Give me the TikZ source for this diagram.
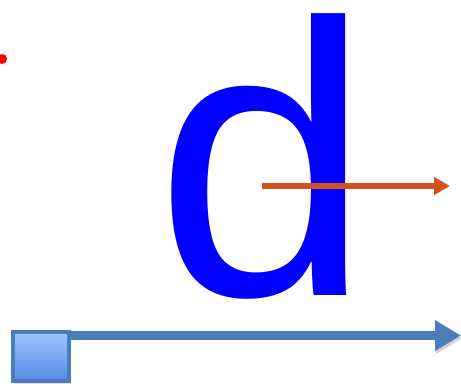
\documentclass[tikz,border=0pt]{standalone}
\usepackage{fontspec}
\setsansfont{Liberation Sans}
\usetikzlibrary{arrows.meta, positioning, shadows}

\definecolor{glyphblue}{RGB}{0,0,255}
\definecolor{rayorange}{RGB}{214,80,28}
\definecolor{axisblue}{RGB}{74,126,187}
\definecolor{boxtop}{RGB}{158,196,255}
\definecolor{boxbottom}{RGB}{84,140,228}

\begin{document}
\begin{tikzpicture}[
  x=1pt, y=-1pt,
  letter/.style={
    font=\sffamily\fontsize{389}{389}\selectfont, text=glyphblue,
    inner sep=0pt, text height=282pt, text depth=4pt, anchor=base west
  },
  dot/.style={circle, fill=red, inner sep=0pt, minimum size=10pt},
  box/.style={
    draw=axisblue, line width=4pt, top color=boxtop, bottom color=boxbottom,
    minimum width=56pt, minimum height=49pt, inner sep=0pt,
    drop shadow={opacity=0.25, shadow xshift=2pt, shadow yshift=-3pt}
  },
  ray/.style={draw=rayorange, line width=6pt, -{Triangle[length=16pt, width=17pt]}},
  axis/.style={
    draw=axisblue, line width=9pt, -{Triangle[length=26pt, width=29pt]},
    preaction={draw=black, opacity=0.18, transform canvas={shift={(1pt,-3pt)}}}
  }
]
  \useasboundingbox (0,0) rectangle (461,386);

  \node[dot] (pt) at (2,59) {};
  \node[letter] (dl) at (155,295) {d};

  \coordinate (raystart) at (262,186);
  \coordinate (rayend) at (450,186);
  \draw[ray] (raystart) -- (rayend);

  \coordinate (axisend) at (461,335.5);
  \draw[axis] (axisend -| 68,0) -- (axisend);
  \node[box] (sq) at (41,356.5) {};
\end{tikzpicture}
\end{document}
